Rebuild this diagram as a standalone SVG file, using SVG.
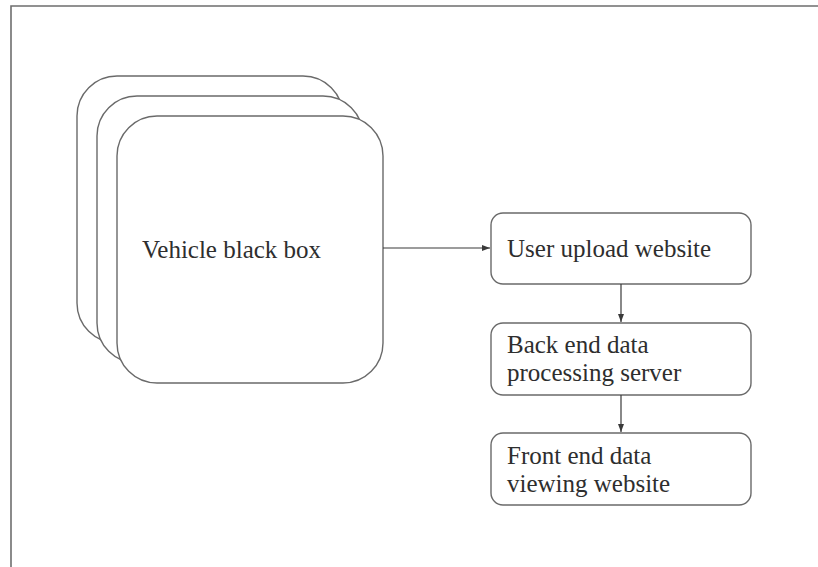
<svg xmlns="http://www.w3.org/2000/svg" width="818" height="567" viewBox="0 0 818 567">
  <style>
    .frame { fill: none; stroke: #6e6e6e; stroke-width: 1.6; }
    .stack { fill: #ffffff; stroke: #6a6a6a; stroke-width: 1.4; }
    .box { fill: #ffffff; stroke: #6a6a6a; stroke-width: 1.4; }
    .link { fill: none; stroke: #3a3a3a; stroke-width: 1.2; marker-end: url(#head); }
    .label { font-family: "Liberation Serif", "Times New Roman", serif; font-size: 25px; fill: #2e2e2e; }
  </style>
  <defs>
    <marker id="head" viewBox="0 0 8 8" refX="8" refY="4" markerWidth="8" markerHeight="8" markerUnits="userSpaceOnUse" orient="auto">
      <path d="M0,1 L8,4 L0,7 Z" fill="#3a3a3a"/>
    </marker>
  </defs>
  <rect width="818" height="567" fill="#ffffff"/>

  <!-- open frame: top and left edges only -->
  <path class="frame" d="M11,567 L11,6 L818,6"/>

  <!-- stacked black box cards -->
  <g id="vehicle-black-box">
    <rect class="stack" x="77" y="76" width="266" height="267" rx="40" ry="40"/>
    <rect class="stack" x="97" y="96" width="266" height="267" rx="40" ry="40"/>
    <rect class="stack" x="117" y="116" width="266" height="267" rx="40" ry="40"/>
    <text class="label" x="142" y="258" font-size="24.5">Vehicle black box</text>
  </g>

  <g id="user-upload-website">
    <rect class="box" x="491" y="213" width="260" height="71" rx="12" ry="12"/>
    <text class="label" x="507" y="257">User upload website</text>
  </g>

  <g id="back-end-server">
    <rect class="box" x="491" y="323" width="260" height="72" rx="12" ry="12"/>
    <text class="label" x="507" y="353">Back end data</text>
    <text class="label" x="507" y="381">processing server</text>
  </g>

  <g id="front-end-website">
    <rect class="box" x="491" y="433" width="260" height="72" rx="12" ry="12"/>
    <text class="label" x="507" y="464">Front end data</text>
    <text class="label" x="507" y="492">viewing website</text>
  </g>

  <g id="connectors">
    <path class="link" d="M383,248 L490,248"/>
    <path class="link" d="M621,284 L621,322"/>
    <path class="link" d="M621,395 L621,432"/>
  </g>
</svg>
